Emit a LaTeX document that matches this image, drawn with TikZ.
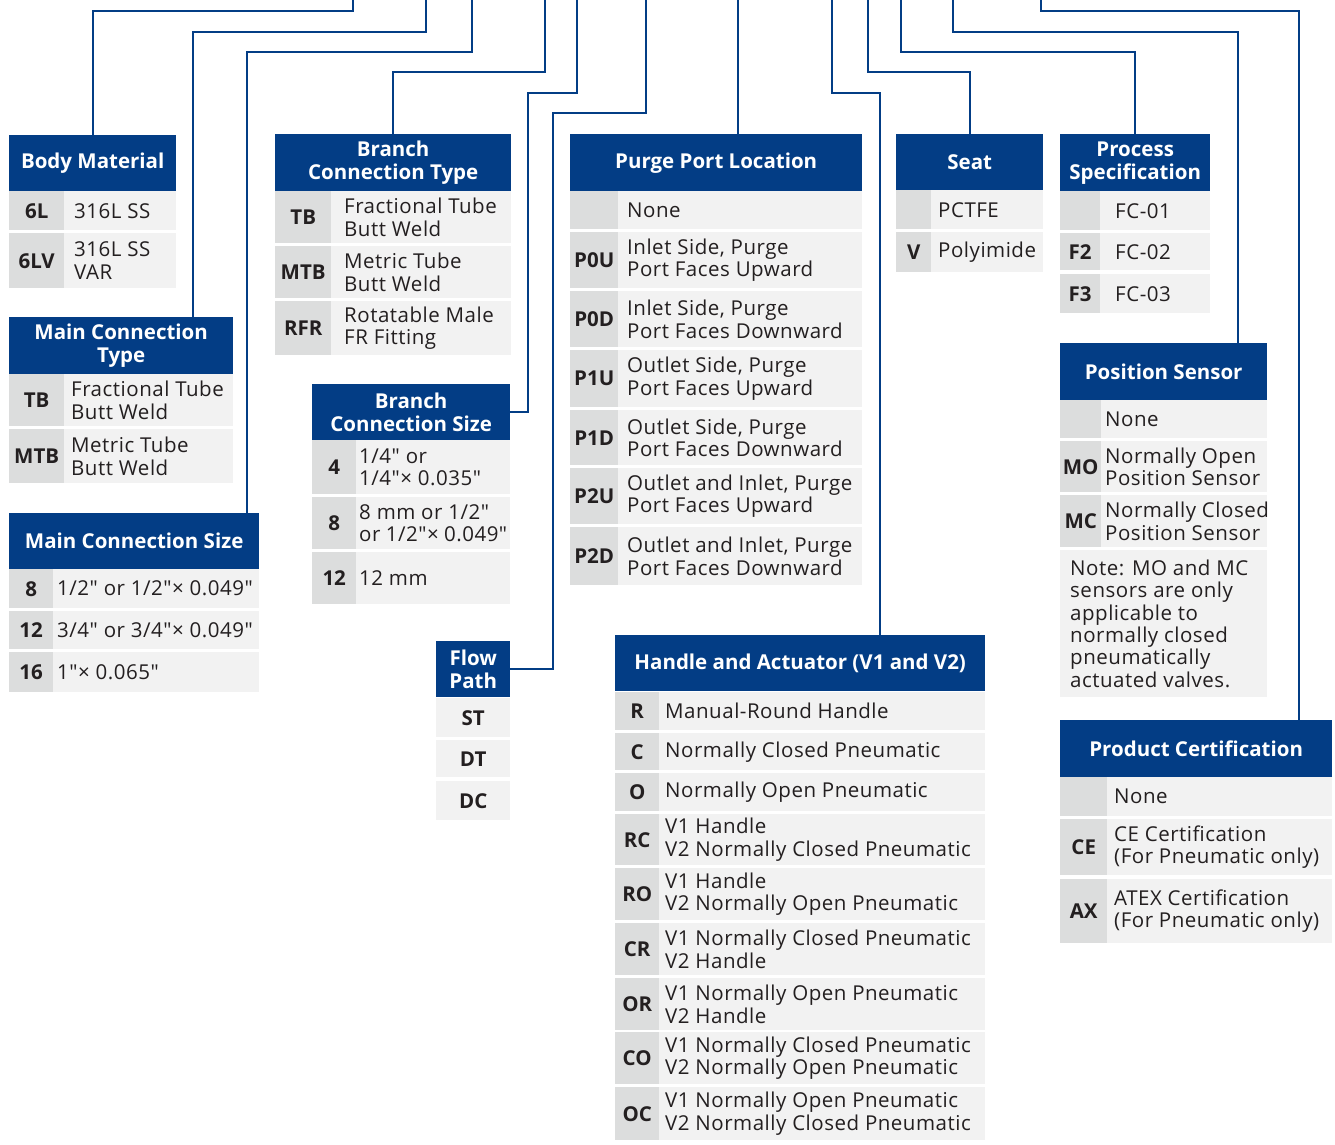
\documentclass[tikz,border=0pt]{standalone}
\usepackage{fontspec}
\setmainfont{Open Sans}[Ligatures=TeXOff, LetterSpace=2.5, BoldFeatures={LetterSpace=0}]
\definecolor{hblue}{HTML}{033D85}
\definecolor{cgrey}{HTML}{DCDDDD}
\definecolor{clight}{HTML}{F2F2F2}
\definecolor{ink}{HTML}{231F20}
\tikzset{
  head/.style={fill=hblue, text=white, font=\fontsize{20.5}{23}\selectfont\bfseries, align=center, anchor=north west, inner sep=0pt},
  code/.style={fill=cgrey, text=ink, font=\fontsize{20.5}{22}\selectfont\bfseries, anchor=north west, inner sep=0pt},
  desc/.style={fill=clight, text=ink, font=\fontsize{20.5}{22.4}\selectfont, align=flush left, anchor=north west, inner ysep=0pt, inner xsep=#1},
  desc/.default=8pt,
  wire/.style={draw=hblue, line width=2pt},
}
\begin{document}
\begin{tikzpicture}[x=1pt, y=-1pt]
  \useasboundingbox (0,0) rectangle (1335,1144);
  % top ends of the leads, one per code field
  \coordinate (t1) at (353,0);  \coordinate (t2) at (426,0);  \coordinate (t3) at (472,0);
  \coordinate (t4) at (545,0);  \coordinate (t5) at (577,0);  \coordinate (t6) at (646,0);
  \coordinate (t7) at (738,0);  \coordinate (t8) at (832,0);  \coordinate (t9) at (868,0);
  \coordinate (t10) at (901,0); \coordinate (t11) at (953,0); \coordinate (t12) at (1041,0);

  % body material
  \node[head, minimum width=167pt, minimum height=56pt] (bmh) at (9,135) {Body Material};
  \node[code, minimum width=55pt, minimum height=39pt] (bm1) at (9,191) {6L};
  \node[desc=10pt, text width=92pt, minimum height=39pt] (bm1t) at (64,191) {316L SS};
  \node[code, minimum width=55pt, minimum height=55pt] (bm2) at (9,233) {6LV};
  \node[desc=10pt, text width=92pt, minimum height=55pt] (bm2t) at (64,233) {316L SS\\VAR};

  % main connection type
  \node[head, minimum width=224pt, minimum height=57pt] (mcth) at (9,317) {Main Connection\\Type};
  \node[code, minimum width=55pt, minimum height=52pt] (mct1) at (9,374) {TB};
  \node[desc=7pt, text width=155pt, minimum height=52pt] (mct1t) at (64,374) {Fractional Tube\\Butt Weld};
  \node[code, minimum width=55pt, minimum height=54pt] (mct2) at (9,429) {MTB};
  \node[desc=7pt, text width=155pt, minimum height=54pt] (mct2t) at (64,429) {Metric Tube\\Butt Weld};

  % main connection size
  \node[head, minimum width=250pt, minimum height=56pt] (mcsh) at (9,513) {Main Connection Size};
  \node[code, minimum width=44pt, minimum height=39pt] (mcs1) at (9,569) {8};
  \node[desc=4pt, text width=198pt, minimum height=39pt] (mcs1t) at (53,569) {1/2" or 1/2"× 0.049"};
  \node[code, minimum width=44pt, minimum height=38pt] (mcs2) at (9,611) {12};
  \node[desc=4pt, text width=198pt, minimum height=38pt] (mcs2t) at (53,611) {3/4" or 3/4"× 0.049"};
  \node[code, minimum width=44pt, minimum height=40pt] (mcs3) at (9,652) {16};
  \node[desc=4pt, text width=198pt, minimum height=40pt] (mcs3t) at (53,652) {1"× 0.065"};

  % branch connection type
  \node[head, minimum width=236pt, minimum height=57pt] (bcth) at (275,134) {Branch\\Connection Type};
  \node[code, minimum width=56pt, minimum height=52pt] (bct1) at (275,191) {TB};
  \node[desc=13pt, text width=154pt, minimum height=52pt] (bct1t) at (331,191) {Fractional Tube\\Butt Weld};
  \node[code, minimum width=56pt, minimum height=52pt] (bct2) at (275,246) {MTB};
  \node[desc=13pt, text width=154pt, minimum height=52pt] (bct2t) at (331,246) {Metric Tube\\Butt Weld};
  \node[code, minimum width=56pt, minimum height=54pt] (bct3) at (275,301) {RFR};
  \node[desc=13pt, text width=154pt, minimum height=54pt] (bct3t) at (331,301) {Rotatable Male\\FR Fitting};

  % branch connection size
  \node[head, minimum width=198pt, minimum height=56pt] (bcsh) at (312,384) {Branch\\Connection Size};
  \node[code, minimum width=44pt, minimum height=54pt] (bcs1) at (312,440) {4};
  \node[desc=3pt, text width=148pt, minimum height=54pt] (bcs1t) at (356,440) {1/4" or\\1/4"× 0.035"};
  \node[code, minimum width=44pt, minimum height=52pt] (bcs2) at (312,497) {8};
  \node[desc=3pt, text width=148pt, minimum height=52pt] (bcs2t) at (356,497) {8 mm or 1/2"\\or 1/2"× 0.049"};
  \node[code, minimum width=44pt, minimum height=52pt] (bcs3) at (312,552) {12};
  \node[desc=3pt, text width=148pt, minimum height=52pt] (bcs3t) at (356,552) {12 mm};

  % flow path
  \node[head, minimum width=74pt, minimum height=56pt] (fph) at (436,641) {Flow\\Path};
  \node[code, fill=clight, minimum width=74pt, minimum height=39pt] (fp1) at (436,698) {ST};
  \node[code, fill=clight, minimum width=74pt, minimum height=37pt] (fp2) at (436,740) {DT};
  \node[code, fill=clight, minimum width=74pt, minimum height=39pt] (fp3) at (436,781) {DC};

  % purge port location
  \node[head, minimum width=292pt, minimum height=57pt] (pplh) at (570,134) {Purge Port Location};
  \node[code, minimum width=48pt, minimum height=38pt] (ppl0) at (570,191) {};
  \node[desc=9pt, text width=226pt, minimum height=38pt] (ppl0t) at (618,191) {None};
  \node[code, minimum width=48pt, minimum height=56pt] (ppl1) at (570,232) {P0U};
  \node[desc=9pt, text width=226pt, minimum height=56pt] (ppl1t) at (618,232) {Inlet Side, Purge\\Port Faces Upward};
  \node[code, minimum width=48pt, minimum height=56pt] (ppl2) at (570,291) {P0D};
  \node[desc=9pt, text width=226pt, minimum height=56pt] (ppl2t) at (618,291) {Inlet Side, Purge\\Port Faces Downward};
  \node[code, minimum width=48pt, minimum height=57pt] (ppl3) at (570,350) {P1U};
  \node[desc=9pt, text width=226pt, minimum height=57pt] (ppl3t) at (618,350) {Outlet Side, Purge\\Port Faces Upward};
  \node[code, minimum width=48pt, minimum height=55pt] (ppl4) at (570,410) {P1D};
  \node[desc=9pt, text width=226pt, minimum height=55pt] (ppl4t) at (618,410) {Outlet Side, Purge\\Port Faces Downward};
  \node[code, minimum width=48pt, minimum height=56pt] (ppl5) at (570,468) {P2U};
  \node[desc=9pt, text width=226pt, minimum height=56pt] (ppl5t) at (618,468) {Outlet and Inlet, Purge\\Port Faces Upward};
  \node[code, minimum width=48pt, minimum height=58pt] (ppl6) at (570,527) {P2D};
  \node[desc=9pt, text width=226pt, minimum height=58pt] (ppl6t) at (618,527) {Outlet and Inlet, Purge\\Port Faces Downward};

  % handle and actuator
  \node[head, minimum width=370pt, minimum height=56pt] (hah) at (615,635) {Handle and Actuator (V1 and V2)};
  \node[code, minimum width=44pt, minimum height=38pt] (ha1) at (615,692) {R};
  \node[desc=6pt, text width=314pt, minimum height=38pt] (ha1t) at (659,692) {Manual-Round Handle};
  \node[code, minimum width=44pt, minimum height=37pt] (ha2) at (615,733) {C};
  \node[desc=6pt, text width=314pt, minimum height=37pt] (ha2t) at (659,733) {Normally Closed Pneumatic};
  \node[code, minimum width=44pt, minimum height=38pt] (ha3) at (615,773) {O};
  \node[desc=6pt, text width=314pt, minimum height=38pt] (ha3t) at (659,773) {Normally Open Pneumatic};
  \node[code, minimum width=44pt, minimum height=51pt] (ha4) at (615,814) {RC};
  \node[desc=6pt, text width=314pt, minimum height=51pt] (ha4t) at (659,814) {V1 Handle\\V2 Normally Closed Pneumatic};
  \node[code, minimum width=44pt, minimum height=52pt] (ha5) at (615,868) {RO};
  \node[desc=6pt, text width=314pt, minimum height=52pt] (ha5t) at (659,868) {V1 Handle\\V2 Normally Open Pneumatic};
  \node[code, minimum width=44pt, minimum height=52pt] (ha6) at (615,923) {CR};
  \node[desc=6pt, text width=314pt, minimum height=52pt] (ha6t) at (659,923) {V1 Normally Closed Pneumatic\\V2 Handle};
  \node[code, minimum width=44pt, minimum height=52pt] (ha7) at (615,978) {OR};
  \node[desc=6pt, text width=314pt, minimum height=52pt] (ha7t) at (659,978) {V1 Normally Open Pneumatic\\V2 Handle};
  \node[code, minimum width=44pt, minimum height=52pt] (ha8) at (615,1032) {CO};
  \node[desc=6pt, text width=314pt, minimum height=52pt] (ha8t) at (659,1032) {V1 Normally Closed Pneumatic\\V2 Normally Open Pneumatic};
  \node[code, minimum width=44pt, minimum height=53pt] (ha9) at (615,1087) {OC};
  \node[desc=6pt, text width=314pt, minimum height=53pt] (ha9t) at (659,1087) {V1 Normally Open Pneumatic\\V2 Normally Closed Pneumatic};

  % seat
  \node[head, minimum width=147pt, minimum height=56pt] (seath) at (896,134) {Seat};
  \node[code, minimum width=35pt, minimum height=39pt] (seat1) at (896,190) {};
  \node[desc=7pt, text width=98pt, minimum height=39pt] (seat1t) at (931,190) {PCTFE};
  \node[code, minimum width=35pt, minimum height=40pt] (seat2) at (896,232) {V};
  \node[desc=7pt, text width=98pt, minimum height=40pt] (seat2t) at (931,232) {Polyimide};

  % process specification
  \node[head, minimum width=150pt, minimum height=57pt] (psh) at (1060,134) {Process\\Specification};
  \node[code, minimum width=40pt, minimum height=39pt] (ps1) at (1060,191) {};
  \node[desc=15pt, text width=80pt, minimum height=39pt] (ps1t) at (1100,191) {FC-01};
  \node[code, minimum width=40pt, minimum height=37pt] (ps2) at (1060,233) {F2};
  \node[desc=15pt, text width=80pt, minimum height=37pt] (ps2t) at (1100,233) {FC-02};
  \node[code, minimum width=40pt, minimum height=39pt] (ps3) at (1060,274) {F3};
  \node[desc=15pt, text width=80pt, minimum height=39pt] (ps3t) at (1100,274) {FC-03};

  % position sensor
  \node[head, minimum width=207pt, minimum height=57pt] (posh) at (1060,343) {Position Sensor};
  \node[code, minimum width=41pt, minimum height=38pt] (pos1) at (1060,400) {};
  \node[desc=4pt, text width=158pt, minimum height=38pt] (pos1t) at (1101,400) {None};
  \node[code, minimum width=41pt, minimum height=51pt] (pos2) at (1060,441) {MO};
  \node[desc=4pt, text width=158pt, minimum height=51pt] (pos2t) at (1101,441) {Normally Open\\Position Sensor};
  \node[code, minimum width=41pt, minimum height=52pt] (pos3) at (1060,495) {MC};
  \node[desc=4pt, text width=158pt, minimum height=52pt] (pos3t) at (1101,495) {\mbox{Normally Closed}\\Position Sensor};
  \node[desc=10pt, text width=187pt, minimum height=147pt] (posn) at (1060,550) {Note: MO and MC\\sensors are only\\applicable to\\normally closed\\pneumatically\\actuated valves.};

  % product certification
  \node[head, minimum width=272pt, minimum height=57pt] (pch) at (1060,720) {Product Certification};
  \node[code, minimum width=47pt, minimum height=39pt] (pc1) at (1060,777) {};
  \node[desc=7pt, text width=211pt, minimum height=39pt] (pc1t) at (1107,777) {None};
  \node[code, minimum width=47pt, minimum height=56pt] (pc2) at (1060,819) {CE};
  \node[desc=7pt, text width=211pt, minimum height=56pt] (pc2t) at (1107,819) {CE Certification\\(For Pneumatic only)};
  \node[code, minimum width=47pt, minimum height=64pt] (pc3) at (1060,879) {AX};
  \node[desc=7pt, text width=211pt, minimum height=64pt] (pc3t) at (1107,879) {ATEX Certification\\(For Pneumatic only)};

  % leads from the ordering number down to each table
  \draw[wire] (t1) -- ++(0,11) -| (bmh.north);
  \draw[wire] (t2) -- ++(0,32) -| ([xshift=72pt]mcth.north);
  \draw[wire] (t3) -- ++(0,52) -| ([xshift=113pt]mcsh.north);
  \draw[wire] (t4) -- ++(0,72) -| (bcth.north);
  \draw[wire] (t5) -- ++(0,93) -| ([xshift=18pt]bcsh.east) -- (bcsh.east);
  \draw[wire] (t6) -- ++(0,113) -| ([xshift=43pt]fph.east) -- (fph.east);
  \draw[wire] (t7) -- (t7 |- pplh.north);
  \draw[wire] (t8) -- ++(0,93) -| ([xshift=80pt]hah.north);
  \draw[wire] (t9) -- ++(0,72) -| (seath.north);
  \draw[wire] (t10) -- ++(0,52) -| (psh.north);
  \draw[wire] (t11) -- ++(0,32) -| ([xshift=74pt]posh.north);
  \draw[wire] (t12) -- ++(0,11) -| ([xshift=103pt]pch.north);
\end{tikzpicture}
\end{document}
